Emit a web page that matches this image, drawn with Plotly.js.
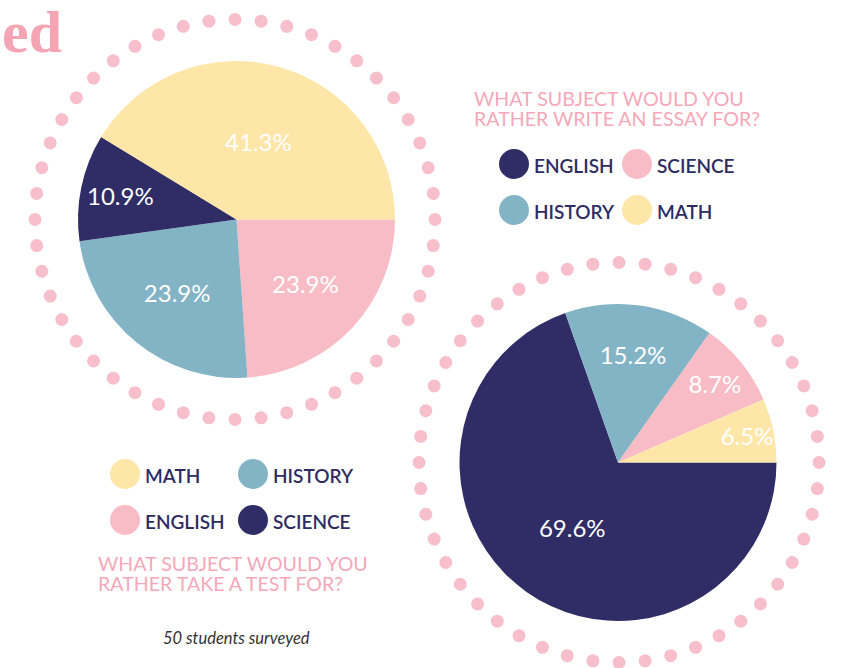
<!DOCTYPE html>
<html>
<head>
<meta charset="utf-8">
<script src="https://cdn.plot.ly/plotly-3.0.1.min.js"></script>
<style>html,body{margin:0;padding:0;background:#fff;}#chart{width:847px;height:668px;}</style>
</head>
<body>
<div id="chart"></div>
<script>
// ---- Data (slice order: clockwise from 3 o'clock) ----
var testLabels = ["ENGLISH", "HISTORY", "SCIENCE", "MATH"];
var testValues = [23.9, 23.9, 10.9, 41.3];
var essayLabels = ["ENGLISH", "HISTORY", "SCIENCE", "MATH"];
var essayValues = [69.6, 15.2, 8.7, 6.5];
var testTitle = ["WHAT SUBJECT WOULD YOU", "RATHER TAKE A TEST FOR?"];
var essayTitle = ["WHAT SUBJECT WOULD YOU", "RATHER WRITE AN ESSAY FOR?"];
var testLegendOrder = ["MATH", "HISTORY", "ENGLISH", "SCIENCE"];
var essayLegendOrder = ["ENGLISH", "SCIENCE", "HISTORY", "MATH"];
var footnote = "50 students surveyed";
var headingFragment = "ed";

// ---- Styles ----
var NAVY = "#302D66", TEAL = "#82B4C5", PINK = "#F7BCC5", YELLOW = "#FEE6A8";
var DOT = "#F7BFCB", TITLE_PINK = "#F6A8B8", TEXT_NAVY = "#2F2C62";
var testColors = {MATH: YELLOW, SCIENCE: NAVY, HISTORY: TEAL, ENGLISH: PINK};
var essayColors = {MATH: YELLOW, SCIENCE: PINK, HISTORY: TEAL, ENGLISH: NAVY};

var W = 847, H = 668;
function dom(cx, cy, r) {
  return {x: [(cx - r) / W, (cx + r) / W], y: [(H - cy - r) / H, (H - cy + r) / H]};
}

// decorative dotted rings
function ring(cx, cy, r, n) {
  var xs = [], ys = [];
  for (var i = 0; i < n; i++) {
    var a = 2 * Math.PI * i / n;
    xs.push(cx + r * Math.cos(a));
    ys.push(cy + r * Math.sin(a));
  }
  return {type: "scatter", mode: "markers", x: xs, y: ys, hoverinfo: "skip",
          marker: {size: 13, color: DOT}, showlegend: false};
}

var pieFont = {family: "Lato, sans-serif", size: 24, color: "#ffffff"};
var traces = [
  ring(235, 219.5, 200, 48),
  ring(619, 462.5, 200, 48),
  {type: "pie", labels: testLabels, values: testValues, sort: false,
   direction: "clockwise", rotation: 90,
   marker: {colors: testLabels.map(function (l) { return testColors[l]; })},
   texttemplate: "%{value:.1f}%", textposition: "inside",
   insidetextorientation: "horizontal", insidetextfont: pieFont,
   domain: dom(236.5, 219.5, 158.5), hoverinfo: "label+value", showlegend: false},
  {type: "pie", labels: essayLabels, values: essayValues, sort: false,
   direction: "clockwise", rotation: 90,
   marker: {colors: essayLabels.map(function (l) { return essayColors[l]; })},
   texttemplate: "%{value:.1f}%", textposition: "inside",
   insidetextorientation: "horizontal", insidetextfont: pieFont,
   domain: dom(618, 462.5, 158.5), hoverinfo: "label+value", showlegend: false}
];

var shapes = [], annotations = [];
function legend(order, colors, x0, x1, y0, y1) {
  var pos = [[x0, y0], [x1, y0], [x0, y1], [x1, y1]];
  order.forEach(function (lab, i) {
    var cx = pos[i][0], cy = pos[i][1];
    shapes.push({type: "circle", xref: "x", yref: "y", x0: cx - 15, x1: cx + 15,
                 y0: cy - 15, y1: cy + 15, fillcolor: colors[lab], line: {width: 0}});
    annotations.push({xref: "x", yref: "y", x: cx + 18, y: cy + 1, text: lab,
                      xanchor: "left", yanchor: "middle", showarrow: false,
                      font: {family: "Lato, sans-serif", size: 19, color: TEXT_NAVY, weight: 600}});
  });
}
legend(essayLegendOrder, essayColors, 514, 637, 164, 210);
legend(testLegendOrder, testColors, 125, 253, 474, 520);

function title(lines, x, y) {
  lines.forEach(function (t, i) {
    annotations.push({xref: "x", yref: "y", x: x, y: y + i * 20, text: t,
                      xanchor: "left", yanchor: "middle", showarrow: false,
                      font: {family: "Lato, sans-serif", size: 19.6, color: TITLE_PINK}});
  });
}
title(essayTitle, 472, 98);
title(testTitle, 96, 563);

annotations.push({xref: "x", yref: "y", x: 161, y: 638, text: "<i>" + footnote + "</i>",
                  xanchor: "left", yanchor: "middle", showarrow: false,
                  font: {family: "Lato, sans-serif", size: 16.5, color: "#333333"}});
annotations.push({xref: "x", yref: "y", x: 64, y: 32, text: "<b>" + headingFragment + "</b>",
                  xanchor: "right", yanchor: "middle", showarrow: false,
                  font: {family: "Liberation Serif, serif", size: 60, color: "#F4A4B3"}});

var layout = {
  width: W, height: H, margin: {l: 0, r: 0, t: 0, b: 0},
  paper_bgcolor: "#ffffff", plot_bgcolor: "rgba(0,0,0,0)",
  xaxis: {range: [0, W], visible: false, fixedrange: true, domain: [0, 1]},
  yaxis: {range: [H, 0], visible: false, fixedrange: true, domain: [0, 1]},
  uniformtext: {mode: "show", minsize: 24},
  shapes: shapes, annotations: annotations, showlegend: false
};
Plotly.newPlot("chart", traces, layout, {displayModeBar: false, staticPlot: true});
</script>
</body>
</html>
